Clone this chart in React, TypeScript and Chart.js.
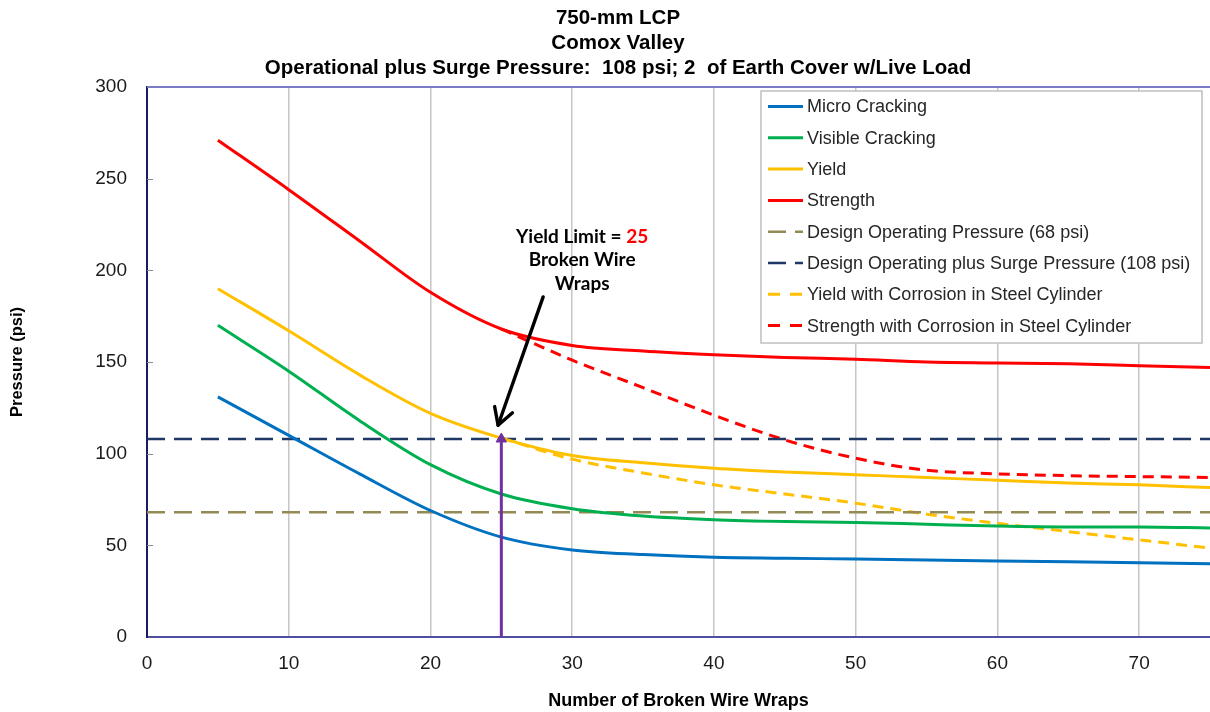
import React, { useEffect, useRef } from 'react';
import { Chart, registerables } from 'chart.js';

Chart.register(...registerables);

// ---------- data ----------
const TITLE_LINES = [
  '750-mm LCP',
  'Comox Valley',
  'Operational plus Surge Pressure:  108 psi; 2  of Earth Cover w/Live Load',
];
const X_TITLE = 'Number of Broken Wire Wraps';
const Y_TITLE = 'Pressure (psi)';

const WRAPS = [5, 10, 15, 20, 25, 30, 35, 40, 45, 50, 55, 60, 65, 70, 75];
const MICRO_CRACKING = [131, 110, 89, 69, 54.5, 47.5, 45, 43.5, 43, 42.5, 42, 41.5, 41, 40.5, 40];
const VISIBLE_CRACKING = [170, 145, 118, 94, 78, 70, 66, 64, 63, 62.5, 61.5, 60.5, 60, 60, 59.5];
const YIELD = [190, 167, 143, 122, 108.5, 99, 95, 92, 90, 88.5, 87, 85.5, 84, 83, 81.5];
const STRENGTH = [271, 244, 216, 188, 168, 159, 156, 154, 152.5, 151.5, 150, 149.5, 149, 148, 147];

const CORR_WRAPS = [25, 30, 35, 40, 45, 50, 55, 60, 65, 70, 75];
const YIELD_CORROSION = [108.5, 97, 89.5, 83, 78, 73, 67, 62, 57.5, 53, 48.5];
const STRENGTH_CORROSION = [168, 151, 136, 121, 107.5, 97.5, 91, 89, 88, 87.5, 87];

const DESIGN_X = [0, 75];
const DESIGN_OPERATING = 68;
const DESIGN_SURGE = 108;

const LIMIT_WRAPS = 25;
const LIMIT_PRESSURE = [0, 108];

const X_MIN = 0;
const X_MAX = 75;
const X_STEP = 10;
const Y_MIN = 0;
const Y_MAX = 300;
const Y_STEP = 50;

const SERIES_NAMES = [
  'Micro Cracking',
  'Visible Cracking',
  'Yield',
  'Strength',
  'Design Operating Pressure (68 psi)',
  'Design Operating plus Surge Pressure (108 psi)',
  'Yield with Corrosion in Steel Cylinder',
  'Strength with Corrosion in Steel Cylinder',
];

const ANNOT_LINE1 = 'Yield Limit = ';
const ANNOT_VALUE = '25';
const ANNOT_LINE2 = 'Broken Wire';
const ANNOT_LINE3 = 'Wraps';
// annotation anchor (data units)
const ANNOT_X = 30.7;
const ANNOT_Y = [218.5, 205.5, 192.5];
const ARROW_FROM = [27.95, 185.5];
const ARROW_TO = [24.77, 115.5];

// ---------- styles ----------
const C_BLUE = '#0070C0';
const C_GREEN = '#00B050';
const C_YELLOW = '#FFC000';
const C_RED = '#FF0000';
const C_TAN = '#948A54';
const C_NAVY = '#1F3864';
const C_PURPLE = '#7030A0';

const LONG_DASH = [18, 9];
const SHORT_DASH = [11, 7];

const pts = (xs: number[], ys: number[]) => xs.map((x, i) => ({ x, y: ys[i] }));

const LEGEND_STYLES = [
  { color: C_BLUE, dash: [] as number[], width: 3 },
  { color: C_GREEN, dash: [], width: 3 },
  { color: C_YELLOW, dash: [], width: 3 },
  { color: C_RED, dash: [], width: 3 },
  { color: C_TAN, dash: [18, 9], width: 2.5 },
  { color: C_NAVY, dash: [18, 9], width: 2.5 },
  { color: C_YELLOW, dash: [12, 10], width: 3 },
  { color: C_RED, dash: [12, 10], width: 3 },
];

const overlayPlugin = {
  id: 'overlay',
  afterDatasetsDraw(chart: any) {
    const { ctx, scales } = chart;
    const xs = scales.x;
    const ys = scales.y;
    ctx.save();
    // arrow
    const x0 = xs.getPixelForValue(ARROW_FROM[0]);
    const y0 = ys.getPixelForValue(ARROW_FROM[1]);
    const x1 = xs.getPixelForValue(ARROW_TO[0]);
    const y1 = ys.getPixelForValue(ARROW_TO[1]);
    ctx.strokeStyle = '#000';
    ctx.lineWidth = 3.4;
    ctx.lineCap = 'round';
    ctx.lineJoin = 'round';
    ctx.beginPath();
    ctx.moveTo(x0, y0);
    ctx.lineTo(x1, y1);
    ctx.stroke();
    const ang = Math.atan2(y1 - y0, x1 - x0);
    const L = 19;
    ctx.beginPath();
    ctx.moveTo(x1 - L * Math.cos(ang - 0.52), y1 - L * Math.sin(ang - 0.52));
    ctx.lineTo(x1, y1);
    ctx.lineTo(x1 - L * Math.cos(ang + 0.52), y1 - L * Math.sin(ang + 0.52));
    ctx.stroke();

    // annotation text
    ctx.font = 'bold 19px Lato, "Open Sans", sans-serif';
    ctx.textBaseline = 'middle';
    ctx.textAlign = 'left';
    const cx = xs.getPixelForValue(ANNOT_X);
    const w1 = ctx.measureText(ANNOT_LINE1).width;
    const w2 = ctx.measureText(ANNOT_VALUE).width;
    const sx = cx - (w1 + w2) / 2;
    ctx.fillStyle = '#000';
    ctx.fillText(ANNOT_LINE1, sx, ys.getPixelForValue(ANNOT_Y[0]));
    ctx.fillStyle = C_RED;
    ctx.fillText(ANNOT_VALUE, sx + w1, ys.getPixelForValue(ANNOT_Y[0]));
    ctx.fillStyle = '#000';
    ctx.textAlign = 'center';
    ctx.fillText(ANNOT_LINE2, cx, ys.getPixelForValue(ANNOT_Y[1]));
    ctx.fillText(ANNOT_LINE3, cx, ys.getPixelForValue(ANNOT_Y[2]));
    ctx.restore();
  },
  afterDraw(chart: any) {
    const { ctx, chartArea, scales } = chart;
    const ys = scales.y;
    ctx.save();
    // top border
    ctx.strokeStyle = '#7B7BC6';
    ctx.lineWidth = 2;
    ctx.beginPath();
    ctx.moveTo(chartArea.left, chartArea.top);
    ctx.lineTo(chartArea.right, chartArea.top);
    ctx.stroke();
    // inward y ticks
    ctx.strokeStyle = '#8A8A8A';
    ctx.lineWidth = 1;
    for (let v = Y_MIN + Y_STEP; v < Y_MAX; v += Y_STEP) {
      const py = Math.round(ys.getPixelForValue(v)) + 0.5;
      ctx.beginPath();
      ctx.moveTo(chartArea.left, py);
      ctx.lineTo(chartArea.left + 6, py);
      ctx.stroke();
    }

    // title
    ctx.fillStyle = '#000';
    ctx.font = 'bold 20.5px "Liberation Sans", Arial, sans-serif';
    ctx.textAlign = 'center';
    ctx.textBaseline = 'middle';
    const tY = [18, 43, 68];
    TITLE_LINES.forEach((t, i) => ctx.fillText(t, 618, tY[i]));

    // legend
    const bx = 761, by = 91, bw = 441, bh = 252;
    ctx.fillStyle = '#fff';
    ctx.fillRect(bx, by, bw, bh);
    ctx.strokeStyle = '#BFBFBF';
    ctx.lineWidth = 1.5;
    ctx.strokeRect(bx, by, bw, bh);
    ctx.font = '18px "Liberation Sans", Arial, sans-serif';
    ctx.textAlign = 'left';
    ctx.textBaseline = 'middle';
    SERIES_NAMES.forEach((name, i) => {
      const st = LEGEND_STYLES[i];
      const ey = 106.5 + i * 31.3;
      ctx.strokeStyle = st.color;
      ctx.lineWidth = st.width;
      ctx.setLineDash(st.dash);
      ctx.lineCap = 'butt';
      ctx.beginPath();
      ctx.moveTo(768, ey);
      ctx.lineTo(803, ey);
      ctx.stroke();
      ctx.setLineDash([]);
      ctx.fillStyle = '#262626';
      ctx.fillText(name, 807, ey + 1);
    });
    ctx.restore();
  },
};

export default function App() {
  const ref = useRef<HTMLCanvasElement | null>(null);

  useEffect(() => {
    if (!ref.current) return;
    const solid = (label: string, xs: number[], ys: number[], color: string) => ({
      label,
      data: pts(xs, ys),
      borderColor: color,
      backgroundColor: color,
      borderWidth: 3,
      pointRadius: 0,
      cubicInterpolationMode: 'monotone' as const,
      fill: false,
    });
    const chart = new Chart(ref.current, {
      type: 'line',
      data: {
        datasets: [
          {
            label: 'limit',
            data: pts([LIMIT_WRAPS, LIMIT_WRAPS], LIMIT_PRESSURE),
            borderColor: C_PURPLE,
            backgroundColor: C_PURPLE,
            borderWidth: 3,
            pointRadius: [0, 6],
            pointStyle: 'triangle',
            pointBorderWidth: 1,
            fill: false,
          } as any,
          solid(SERIES_NAMES[0], WRAPS, MICRO_CRACKING, C_BLUE),
          solid(SERIES_NAMES[1], WRAPS, VISIBLE_CRACKING, C_GREEN),
          solid(SERIES_NAMES[2], WRAPS, YIELD, C_YELLOW),
          solid(SERIES_NAMES[3], WRAPS, STRENGTH, C_RED),
          {
            label: SERIES_NAMES[4],
            data: pts(DESIGN_X, [DESIGN_OPERATING, DESIGN_OPERATING]),
            borderColor: C_TAN,
            borderWidth: 2.5,
            borderDash: LONG_DASH,
            pointRadius: 0,
          },
          {
            label: SERIES_NAMES[5],
            data: pts(DESIGN_X, [DESIGN_SURGE, DESIGN_SURGE]),
            borderColor: C_NAVY,
            borderWidth: 2.5,
            borderDash: LONG_DASH,
            pointRadius: 0,
          },
          { ...solid(SERIES_NAMES[6], CORR_WRAPS, YIELD_CORROSION, C_YELLOW), borderDash: SHORT_DASH },
          { ...solid(SERIES_NAMES[7], CORR_WRAPS, STRENGTH_CORROSION, C_RED), borderDash: SHORT_DASH },
        ],
      },
      options: {
        animation: false,
        responsive: false,
        events: [],
        layout: { autoPadding: false, padding: { top: 87, left: 0, right: 0, bottom: 0 } },
        plugins: {
          legend: { display: false },
          title: { display: false },
          tooltip: { enabled: false },
        },
        scales: {
          x: {
            type: 'linear',
            min: X_MIN,
            max: X_MAX,
            afterFit: (s: any) => {
              s.height = 75;
              s.paddingRight = 0;
              s.paddingLeft = 0;
            },
            ticks: {
              stepSize: X_STEP,
              includeBounds: false,
              padding: 15,
              color: '#1a1a1a',
              font: { family: '"Liberation Sans", Arial, sans-serif', size: 19 },
            },
            grid: {
              display: true,
              drawTicks: false,
              color: '#C6C6C6',
              lineWidth: 1.5,
            },
            border: { display: true, color: '#4E4E9C', width: 2 },
            title: {
              display: true,
              text: X_TITLE,
              color: '#000',
              font: { family: '"Liberation Sans", Arial, sans-serif', size: 18, weight: 'bold' },
              padding: { top: 0, bottom: 0 },
            },
          },
          y: {
            type: 'linear',
            min: Y_MIN,
            max: Y_MAX,
            afterFit: (s: any) => {
              s.width = 147;
              s.paddingTop = 0;
              s.paddingBottom = 0;
            },
            ticks: {
              stepSize: Y_STEP,
              padding: 20,
              color: '#1a1a1a',
              font: { family: '"Liberation Sans", Arial, sans-serif', size: 19 },
            },
            grid: { display: false, drawTicks: false },
            border: { display: true, color: '#1A1A60', width: 2 },
            title: {
              display: true,
              text: Y_TITLE,
              color: '#000',
              font: { family: '"Liberation Sans", Arial, sans-serif', size: 16.5, weight: 'bold' },
              padding: { top: 8, bottom: 0 },
            },
          },
        },
      },
      plugins: [overlayPlugin],
    });
    return () => chart.destroy();
  }, []);

  return (
    <div style={{ position: 'fixed', left: 0, top: 0, width: 1210, height: 712, background: '#fff' }}>
      <canvas ref={ref} width={1210} height={712} style={{ display: 'block' }} />
    </div>
  );
}
